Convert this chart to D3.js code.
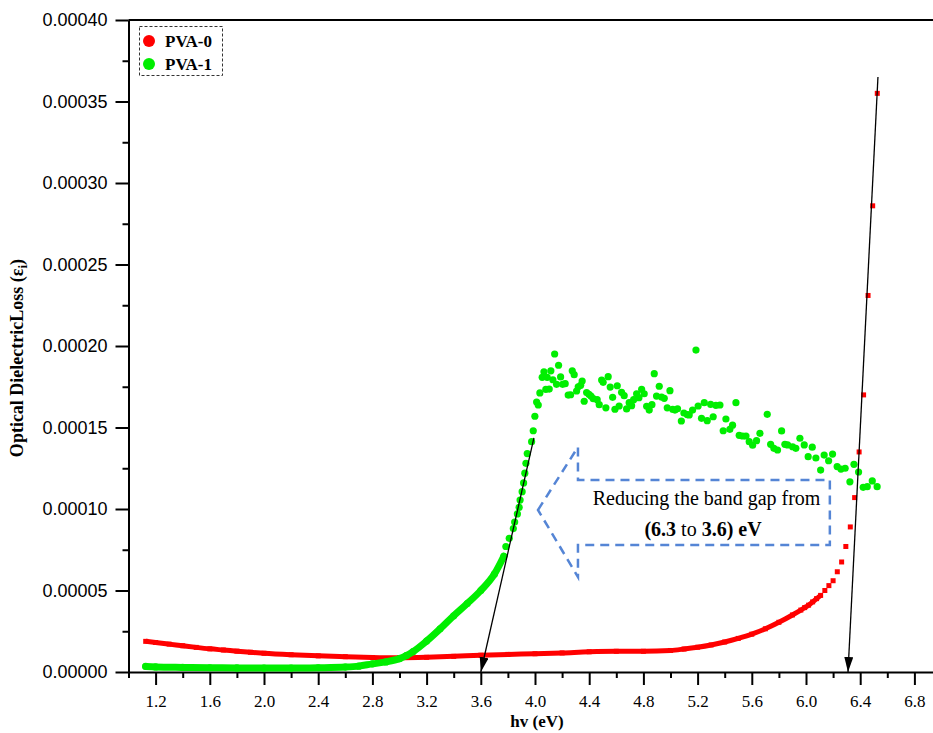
<!DOCTYPE html>
<html>
<head>
<meta charset="utf-8">
<script src="https://cdn.jsdelivr.net/npm/d3@7"></script>
<style>
    body { margin: 0; background: #fff; }
    svg { display: block; }
    .tick line { stroke: #000; stroke-width: 2; }
    .domain { stroke: #000; stroke-width: 2; }
</style>
</head>
<body>
<svg id="chart" width="933" height="733"></svg>
<script>
    // PVA-0 (red squares)
    var pva0Hv = [1.127, 1.2, 1.3, 1.4, 1.5, 1.6, 1.7, 1.8, 1.9, 2.0,
        2.2, 2.4, 2.6, 2.8, 3.0, 3.2, 3.4, 3.6, 3.8, 4.0,
        4.2, 4.4, 4.6, 4.8, 5.0, 5.1, 5.2, 5.3, 5.4, 5.5,
        5.6, 5.7, 5.8, 5.9, 5.962, 5.99, 6.019, 6.049, 6.078, 6.108,
        6.139, 6.169, 6.2, 6.231, 6.263, 6.294, 6.327, 6.359, 6.392, 6.425,
        6.458, 6.492, 6.526];
    var pva0Eps = [1.88e-5, 1.81e-5, 1.71e-5, 1.61e-5, 1.51e-5, 1.42e-5, 1.35e-5, 1.28e-5, 1.21e-5, 1.15e-5,
        1.06e-5, 0.99e-5, 0.94e-5, 0.89e-5, 0.87e-5, 0.9e-5, 0.96e-5, 1.03e-5, 1.08e-5, 1.12e-5,
        1.17e-5, 1.24e-5, 1.27e-5, 1.27e-5, 1.32e-5, 1.41e-5, 1.52e-5, 1.66e-5, 1.84e-5, 2.06e-5,
        2.32e-5, 2.65e-5, 3.05e-5, 3.5e-5, 3.8e-5, 3.95e-5, 4.1e-5, 4.3e-5, 4.5e-5, 4.7e-5,
        5.0e-5, 5.3e-5, 5.6e-5, 6.15e-5, 6.75e-5, 7.7e-5, 8.9e-5, 10.7e-5, 13.5e-5, 17.0e-5,
        23.1e-5, 28.6e-5, 35.5e-5];

    // PVA-1 (green circles)
    var pva1Hv = [1.127, 1.2, 1.4, 1.6, 1.8, 2.0, 2.2, 2.4, 2.6, 2.7,
        2.8, 2.9, 3.0, 3.05, 3.1, 3.2, 3.3, 3.4, 3.5, 3.6,
        3.7, 3.77, 3.785, 3.81, 3.84, 3.85, 3.87, 3.883, 3.89, 3.905,
        3.916, 3.925, 3.933, 3.943, 3.975, 3.987, 3.999, 4.012, 4.024, 4.036,
        4.053, 4.066, 4.080, 4.090, 4.105, 4.117, 4.132, 4.145, 4.159, 4.174,
        4.189, 4.204, 4.223, 4.245, 4.263, 4.275, 4.289, 4.307, 4.319, 4.337,
        4.348, 4.363, 4.381, 4.398, 4.413, 4.430, 4.459, 4.474, 4.492, 4.503,
        4.523, 4.540, 4.555, 4.573, 4.590, 4.607, 4.621, 4.639, 4.658, 4.676,
        4.695, 4.713, 4.728, 4.750, 4.767, 4.787, 4.806, 4.824, 4.843, 4.863,
        4.880, 4.897, 4.917, 4.934, 4.954, 4.976, 4.996, 5.016, 5.033, 5.052,
        5.080, 5.099, 5.123, 5.138, 5.163, 5.188, 5.204, 5.229, 5.249, 5.271,
        5.296, 5.315, 5.335, 5.365, 5.389, 5.409, 5.438, 5.458, 5.483, 5.507,
        5.532, 5.557, 5.581, 5.606, 5.635, 5.660, 5.714, 5.739, 5.763, 5.790,
        5.820, 5.844, 5.864, 5.901, 5.925, 5.955, 5.987, 6.016, 6.046, 6.073,
        6.108, 6.134, 6.167, 6.196, 6.230, 6.258, 6.289, 6.324, 6.354, 6.388,
        6.422, 6.452, 6.489, 6.525];
    var pva1Eps = [0.34e-5, 0.31e-5, 0.28e-5, 0.26e-5, 0.25e-5, 0.24e-5, 0.24e-5, 0.26e-5, 0.3e-5, 0.36e-5,
        0.5e-5, 0.62e-5, 0.82e-5, 1.0e-5, 1.25e-5, 1.9e-5, 2.65e-5, 3.45e-5, 4.2e-5, 5.0e-5,
        6.0e-5, 7.1e-5, 7.7e-5, 8.2e-5, 8.8e-5, 9.2e-5, 9.7e-5, 10.1e-5, 10.55e-5, 11.06e-5,
        11.6e-5, 12.2e-5, 12.8e-5, 13.4e-5, 14.13e-5, 14.80e-5, 15.69e-5, 16.56e-5, 16.38e-5, 17.12e-5,
        18.08e-5, 18.42e-5, 17.34e-5, 18.08e-5, 17.36e-5, 18.48e-5, 17.93e-5, 19.51e-5, 17.65e-5, 18.82e-5,
        18.10e-5, 17.65e-5, 17.69e-5, 16.99e-5, 17.01e-5, 18.48e-5, 18.24e-5, 17.24e-5, 17.50e-5, 17.59e-5,
        17.85e-5, 16.61e-5, 17.14e-5, 17.04e-5, 16.93e-5, 16.77e-5, 16.71e-5, 16.40e-5, 17.91e-5, 17.77e-5,
        16.21e-5, 18.12e-5, 17.48e-5, 16.85e-5, 16.12e-5, 17.56e-5, 16.32e-5, 17.16e-5, 16.95e-5, 16.14e-5,
        16.52e-5, 16.34e-5, 16.71e-5, 17.07e-5, 16.83e-5, 17.34e-5, 17.07e-5, 16.30e-5, 16.07e-5, 16.40e-5,
        18.30e-5, 16.93e-5, 17.53e-5, 16.87e-5, 16.79e-5, 16.21e-5, 17.26e-5, 16.12e-5, 16.07e-5, 16.15e-5,
        15.40e-5, 15.89e-5, 15.79e-5, 15.77e-5, 16.07e-5, 19.75e-5, 16.32e-5, 15.56e-5, 16.52e-5, 15.42e-5,
        16.42e-5, 15.66e-5, 16.36e-5, 16.38e-5, 14.80e-5, 15.52e-5, 14.89e-5, 15.14e-5, 16.52e-5, 14.52e-5,
        14.48e-5, 14.48e-5, 14.13e-5, 13.91e-5, 14.19e-5, 14.64e-5, 15.81e-5, 13.97e-5, 13.72e-5, 13.62e-5,
        14.79e-5, 13.97e-5, 13.93e-5, 13.82e-5, 13.72e-5, 14.34e-5, 13.93e-5, 13.21e-5, 13.79e-5, 13.13e-5,
        12.39e-5, 13.31e-5, 12.96e-5, 13.37e-5, 12.60e-5, 12.45e-5, 12.50e-5, 11.67e-5, 12.74e-5, 12.27e-5,
        11.33e-5, 11.37e-5, 11.72e-5, 11.37e-5];

    // axis ticks
    var xTicks = [1.2, 1.6, 2.0, 2.4, 2.8, 3.2, 3.6, 4.0, 4.4, 4.8, 5.2, 5.6, 6.0, 6.4, 6.8];
    var xMinorTicks = [1.0, 1.4, 1.8, 2.2, 2.6, 3.0, 3.4, 3.8, 4.2, 4.6, 5.0, 5.4, 5.8, 6.2, 6.6];
    var yTicks = [0, 0.00005, 0.0001, 0.00015, 0.0002, 0.00025, 0.0003, 0.00035, 0.0004];
    var yMinorTicks = [0.000025, 0.000075, 0.000125, 0.000175, 0.000225, 0.000275, 0.000325, 0.000375];

    // band gap tangents: top point and intercept on the hv axis
    var tangentTopHv = [3.992, 6.531];
    var tangentTopEps = [14.36e-5, 36.5e-5];
    var tangentGapHv = [3.6, 6.31];

    // callout arrow outline (hv / eps)
    var calloutHv = [4.022, 4.317, 4.317, 6.176, 6.176, 4.317, 4.317];
    var calloutEps = [9.94e-5, 13.8e-5, 11.78e-5, 11.78e-5, 7.79e-5, 7.79e-5, 5.83e-5];

    var svg = d3.select("#chart");

    var x = d3.scaleLinear()
        .domain([1.0, 7.0])
        .range([128.5, 941.5]);
    var y = d3.scaleLinear()
        .domain([0, 0.0004])
        .range([672, 20]);

    var serif = "'Liberation Serif', 'Times New Roman', serif";
    var sans = "'Liberation Sans', Arial, sans-serif";

    // arrow head for tangent lines
    svg.append("defs").append("marker")
        .attr("id", "head")
        .attr("markerUnits", "userSpaceOnUse")
        .attr("markerWidth", 16)
        .attr("markerHeight", 10)
        .attr("refX", 15)
        .attr("refY", 4.5)
        .attr("orient", "auto")
        .append("path")
        .attr("d", "M0,0 L15,4.5 L0,9 Z")
        .attr("fill", "#000");

    // minor ticks
    svg.append("g")
        .attr("transform", "translate(0,672)")
        .call(d3.axisBottom(x).tickValues(xMinorTicks).tickSize(6).tickFormat(""))
        .call(function(g){ g.select(".domain").remove(); });
    svg.append("g")
        .attr("transform", "translate(128.5,0)")
        .call(d3.axisLeft(y).tickValues(yMinorTicks).tickSize(6).tickFormat(""))
        .call(function(g){ g.select(".domain").remove(); });

    // x axis
    var xAxis = svg.append("g")
        .attr("transform", "translate(0,672)")
        .call(d3.axisBottom(x).tickValues(xTicks).tickSize(13).tickSizeOuter(0)
            .tickPadding(10).tickFormat(d3.format(".1f")));
    xAxis.selectAll("text")
        .style("font-family", serif)
        .style("font-size", "17px")
        .attr("fill", "#000");

    // y axis
    var yAxis = svg.append("g")
        .attr("transform", "translate(128.5,0)")
        .call(d3.axisLeft(y).tickValues(yTicks).tickSize(13).tickSizeOuter(0)
            .tickPadding(8).tickFormat(function(d){ return d.toFixed(5); }));
    yAxis.selectAll("text")
        .style("font-family", sans)
        .style("font-size", "18px")
        .attr("fill", "#000");

    // top frame line
    svg.append("line")
        .attr("x1", x(1.0)).attr("x2", x(7.0))
        .attr("y1", y(0.0004)).attr("y2", y(0.0004))
        .attr("stroke", "#000").attr("stroke-width", 2);

    // axis titles
    svg.append("text")
        .attr("x", 537).attr("y", 727)
        .attr("text-anchor", "middle")
        .style("font-family", serif)
        .style("font-size", "17px")
        .style("font-weight", "bold")
        .text("hv (eV)");

    var yTitle = svg.append("text")
        .attr("transform", "translate(23,358) rotate(-90)")
        .attr("text-anchor", "middle")
        .style("font-family", serif)
        .style("font-size", "18px")
        .style("font-weight", "bold");
    yTitle.append("tspan").text("Optical DielectricLoss (\u03b5");
    yTitle.append("tspan").attr("dy", 4).style("font-size", "13px").text("i");
    yTitle.append("tspan").attr("dy", -4).text(")");

    var pva0 = pva0Hv.map(function(d, i){ return {hv: d, eps: pva0Eps[i]}; });
    var pva1 = pva1Hv.map(function(d, i){ return {hv: d, eps: pva1Eps[i]}; });

    var line = d3.line()
        .x(function(d){ return x(d.hv); })
        .y(function(d){ return y(d.eps); })
        .curve(d3.curveMonotoneX);

    // PVA-0: dense part shows as a solid band, then single squares
    svg.append("path")
        .datum(pva0.filter(function(d){ return d.hv <= 6.11; }))
        .attr("d", line)
        .attr("fill", "none")
        .attr("stroke", "#ff0000")
        .attr("stroke-width", 5);
    svg.selectAll(".sq")
        .data(pva0)
        .enter()
        .append("rect")
        .classed("sq", true)
        .attr("x", function(d){ return x(d.hv) - 2.5; })
        .attr("y", function(d){ return y(d.eps) - 2.5; })
        .attr("width", 5)
        .attr("height", 5)
        .attr("fill", "#ff0000");

    // PVA-1
    svg.append("path")
        .datum(pva1.filter(function(d){ return d.hv <= 3.77; }))
        .attr("d", line)
        .attr("fill", "none")
        .attr("stroke", "#00ee00")
        .attr("stroke-width", 7)
        .attr("stroke-linecap", "round");
    svg.selectAll(".dot")
        .data(pva1)
        .enter()
        .append("circle")
        .classed("dot", true)
        .attr("cx", function(d){ return x(d.hv); })
        .attr("cy", function(d){ return y(d.eps); })
        .attr("r", 3.6)
        .attr("fill", "#00ee00");

    // tangent lines down to band gap
    svg.selectAll(".tangent")
        .data(tangentGapHv)
        .enter()
        .append("line")
        .classed("tangent", true)
        .attr("x1", function(d, i){ return x(tangentTopHv[i]); })
        .attr("y1", function(d, i){ return y(tangentTopEps[i]); })
        .attr("x2", function(d){ return x(d); })
        .attr("y2", y(0))
        .attr("stroke", "#000")
        .attr("stroke-width", 1.3)
        .attr("marker-end", "url(#head)");

    // callout arrow
    var callout = calloutHv.map(function(d, i){ return [x(d), y(calloutEps[i])]; });
    svg.append("path")
        .attr("d", d3.line()(callout) + "Z")
        .attr("fill", "none")
        .attr("stroke", "#5585d5")
        .attr("stroke-width", 2.5)
        .attr("stroke-dasharray", "9,6");

    svg.append("text")
        .attr("x", x(5.266)).attr("y", y(10.25e-5))
        .attr("text-anchor", "middle")
        .style("font-family", serif)
        .style("font-size", "20px")
        .text("Reducing the band gap from");
    var t2 = svg.append("text")
        .attr("x", x(5.24)).attr("y", y(8.34e-5))
        .attr("text-anchor", "middle")
        .style("font-family", serif)
        .style("font-size", "20px");
    t2.append("tspan").style("font-weight", "bold").text("(6.3");
    t2.append("tspan").text(" to ");
    t2.append("tspan").style("font-weight", "bold").text("3.6) eV");

    // legend
    var legend = svg.append("g");
    legend.append("rect")
        .attr("x", 139.5).attr("y", 26.5)
        .attr("width", 83).attr("height", 49)
        .attr("fill", "#fff")
        .attr("stroke", "#333")
        .attr("stroke-dasharray", "3,2");
    var legendItems = [{name: "PVA-0", color: "#ff0000"}, {name: "PVA-1", color: "#00ee00"}];
    legendItems.forEach(function(item, i){
        legend.append("circle")
            .attr("cx", 149).attr("cy", 41 + i * 23)
            .attr("r", 6)
            .attr("fill", item.color);
        legend.append("text")
            .attr("x", 165).attr("y", 47 + i * 23)
            .style("font-family", serif)
            .style("font-size", "17px")
            .style("font-weight", "bold")
            .text(item.name);
    });
</script>
</body>
</html>
